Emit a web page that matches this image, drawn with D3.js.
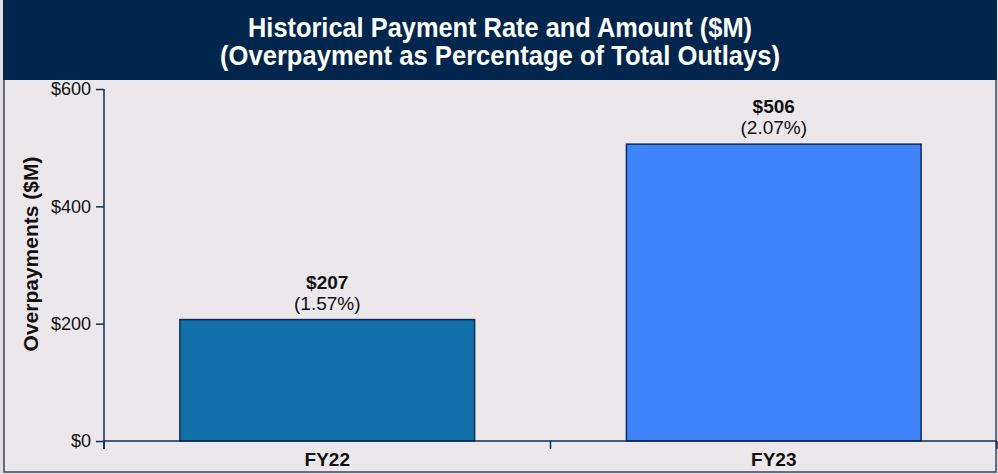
<!DOCTYPE html>
<html>
<head>
<meta charset="utf-8">
<script src="https://cdn.jsdelivr.net/npm/d3@7"></script>
<style>
  body { margin: 0; background: #e2dfe4; }
  svg { display: block; font-family: "Liberation Sans", Arial, sans-serif; }
</style>
</head>
<body>
<svg id="chart"></svg>
<script>
const width = 998;
const height = 474;

// data
const years = ["FY22", "FY23"];
const amounts = [207, 506];
const rates = ["1.57%", "2.07%"];
const barColors = ["#116faa", "#4083fe"];
const yTicks = [0, 200, 400, 600];
const titleLines = [
  "Historical Payment Rate and Amount ($M)",
  "(Overpayment as Percentage of Total Outlays)"
];
const titleWidths = [504, 560];

const svg = d3.select("#chart")
  .attr("width", width)
  .attr("height", height);

// frame + background
svg.append("rect")
  .attr("x", 4).attr("y", 0)
  .attr("width", 992).attr("height", 472)
  .attr("fill", "#ebe7eb")
  .attr("stroke", "#34475f")
  .attr("stroke-width", 1.5);

// title bar
svg.append("rect")
  .attr("x", 3).attr("y", 0)
  .attr("width", 994).attr("height", 80)
  .attr("fill", "#00264d");

// condensed bold title (squeezed to the reference widths)
svg.selectAll(".title")
  .data(titleLines)
  .join("text")
  .attr("class", "title")
  .attr("x", 500)
  .attr("y", (d, i) => 37 + i * 28)
  .attr("text-anchor", "middle")
  .attr("fill", "#fff")
  .attr("font-weight", "bold")
  .attr("font-size", 28)
  .attr("textLength", (d, i) => titleWidths[i])
  .attr("lengthAdjust", "spacingAndGlyphs")
  .text(d => d);

const margin = { left: 104, right: 997, top: 89, bottom: 441 };

const x = d3.scaleBand()
  .domain(years)
  .range([margin.left, margin.right])
  .paddingInner(0.34)
  .paddingOuter(0.17);

const y = d3.scaleLinear()
  .domain([0, 600])
  .range([margin.bottom, margin.top]);

// bars
svg.selectAll(".bar")
  .data(years)
  .join("rect")
  .attr("class", "bar")
  .attr("x", d => x(d))
  .attr("y", (d, i) => y(amounts[i]))
  .attr("width", x.bandwidth())
  .attr("height", (d, i) => y(0) - y(amounts[i]))
  .attr("fill", (d, i) => barColors[i])
  .attr("stroke", "#0f2c50")
  .attr("stroke-width", 1.5);

// value labels
svg.selectAll(".amt")
  .data(years)
  .join("text")
  .attr("class", "amt")
  .attr("x", d => x(d) + x.bandwidth() / 2)
  .attr("y", (d, i) => y(amounts[i]) - 31)
  .attr("text-anchor", "middle")
  .attr("font-weight", "bold")
  .attr("font-size", 19)
  .attr("fill", "#111")
  .text((d, i) => "$" + amounts[i]);

svg.selectAll(".rate")
  .data(years)
  .join("text")
  .attr("class", "rate")
  .attr("x", d => x(d) + x.bandwidth() / 2)
  .attr("y", (d, i) => y(amounts[i]) - 10)
  .attr("text-anchor", "middle")
  .attr("font-size", 19)
  .attr("fill", "#111")
  .text((d, i) => "(" + rates[i] + ")");

// y axis
const yAxis = svg.append("g")
  .attr("transform", `translate(${margin.left},0)`)
  .call(d3.axisLeft(y).tickValues(yTicks).tickFormat(d => "$" + d).tickSize(8).tickSizeOuter(0));

yAxis.select(".domain").attr("stroke", "#0f2c50").attr("stroke-width", 1.5)
  .attr("d", `M0,${margin.top}V${margin.bottom + 8}`);
yAxis.selectAll(".tick line").attr("stroke", "#0f2c50").attr("stroke-width", 1.5);
yAxis.selectAll(".tick text")
  .attr("font-size", 18)
  .attr("fill", "#111")
  .attr("dx", -2)
  .attr("font-family", "'Liberation Sans', Arial, sans-serif");

// x axis
const xAxis = svg.append("g")
  .attr("transform", `translate(0,${margin.bottom})`)
  .call(d3.axisBottom(x).tickSize(0).tickPadding(12));

xAxis.select(".domain").attr("stroke", "#0f2c50").attr("stroke-width", 1.5)
  .attr("d", `M${margin.left},0H${margin.right}`);
xAxis.selectAll(".tick text")
  .attr("font-size", 19)
  .attr("font-weight", "bold")
  .attr("fill", "#111")
  .attr("font-family", "'Liberation Sans', Arial, sans-serif");

// category separator ticks
const sepTicks = [margin.left, (x("FY22") + x.bandwidth() + x("FY23")) / 2, margin.right];
xAxis.selectAll(".sep")
  .data(sepTicks)
  .join("line")
  .attr("class", "sep")
  .attr("x1", d => d).attr("x2", d => d)
  .attr("y1", 0).attr("y2", 8)
  .attr("stroke", "#0f2c50")
  .attr("stroke-width", 1.5);

// y axis title
svg.append("text")
  .attr("transform", "translate(38,254) rotate(-90)")
  .attr("text-anchor", "middle")
  .attr("font-weight", "bold")
  .attr("font-size", 21)
  .attr("fill", "#111")
  .text("Overpayments ($M)");
</script>
</body>
</html>
